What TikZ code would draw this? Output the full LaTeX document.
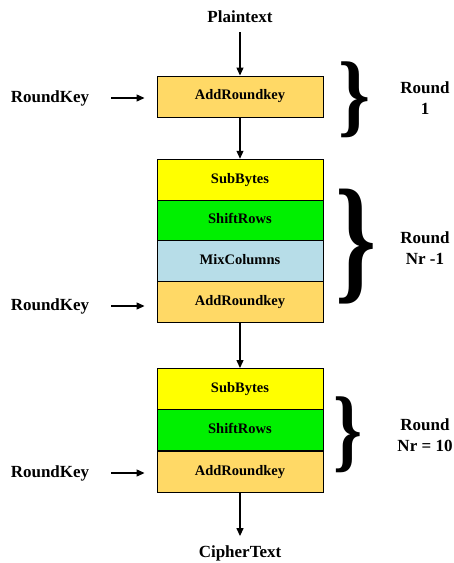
\documentclass[tikz,border=0pt]{standalone}
\usepackage{fontspec}
\usepackage{graphicx}
\setmainfont{Liberation Serif}
\usetikzlibrary{arrows.meta}
\definecolor{addc}{HTML}{FFD966}
\definecolor{subc}{HTML}{FFFF00}
\definecolor{shic}{HTML}{00F000}
\definecolor{mixc}{HTML}{B7DDE8}
\tikzset{
  box/.style={draw=black, line width=0.9pt, minimum width=166pt, minimum height=41pt, inner sep=0pt,
    text height=0.68em, text depth=0pt,
    font=\fontsize{14.5}{16}\selectfont\bfseries},
  lbl/.style={inner sep=1pt, font=\fontsize{17}{21}\selectfont\bfseries, align=center},
  arr/.style={line width=1.2pt, -{Triangle[length=8pt,width=7pt]}},
  brc/.style={inner sep=0pt}
}
\begin{document}
\begin{tikzpicture}[x=1pt,y=-1pt]
\useasboundingbox (0,0) rectangle (454,563);
% top
\node[lbl] (pt) at (240,17) {Plaintext};
\node[box, fill=addc] (a1) at (240,96.5) {AddRoundkey};
\node[lbl] (rk1) at (50,98) {RoundKey};
\node[brc] (b1) at (355,100) {\resizebox*{32pt}{76pt}{\bfseries\}}};
\node[lbl] (r1) at (425,98) {Round\\1};
% block 2
\node[box, fill=subc] (sb2) at (240,179.7) {SubBytes};
\node[box, fill=shic] (sr2) at (240,220.5) {ShiftRows};
\node[box, fill=mixc] (mc2) at (240,261.3) {MixColumns};
\node[box, fill=addc] (ar2) at (240,302.1) {AddRoundkey};
\node[lbl] (rk2) at (50,306) {RoundKey};
\node[brc] (b2) at (356.5,246.5) {\resizebox*{41pt}{115pt}{\bfseries\}}};
\node[lbl] (r2) at (425,248) {Round\\Nr -1};
% block 3
\node[box, fill=subc] (sb3) at (240,389) {SubBytes};
\node[box, fill=shic] (sr3) at (240,430) {ShiftRows};
\node[box, fill=addc] (ar3) at (240,471.8) {AddRoundkey};
\node[lbl] (rk3) at (50,473) {RoundKey};
\node[brc] (b3) at (348.5,435) {\resizebox*{29pt}{76pt}{\bfseries\}}};
\node[lbl] (r3) at (425,435) {Round\\Nr = 10};
\node[lbl] (ct) at (240,553) {CipherText};
% connectors
\draw[arr, shorten <=8pt] (pt.south) -- (a1.north);
\draw[arr] (a1.south) -- (sb2.north);
\draw[arr] (ar2.south) -- (sb3.north);
\draw[arr, shorten >=8pt] (ar3.south) -- (ct.north);
\draw[arr, shorten <=21pt, shorten >=12pt] (rk1.east) -- (rk1.east -| a1.west);
\draw[arr, shorten <=21pt, shorten >=12pt] (rk2.east) -- (rk2.east -| ar2.west);
\draw[arr, shorten <=21pt, shorten >=12pt] (rk3.east) -- (rk3.east -| ar3.west);
\end{tikzpicture}
\end{document}
